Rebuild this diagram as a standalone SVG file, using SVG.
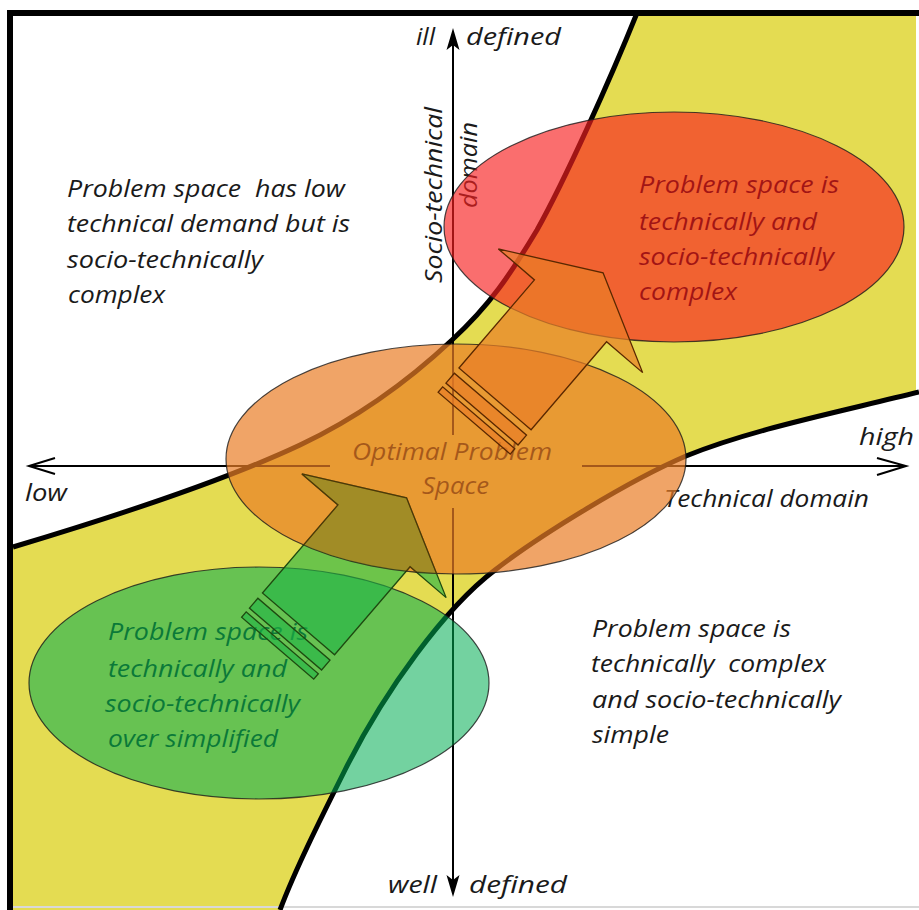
<svg xmlns="http://www.w3.org/2000/svg" width="919" height="910" viewBox="0 0 919 910">
<style>
text{font-family:"Open Sans","Liberation Sans",sans-serif;font-style:italic;font-size:24px;fill:#1a1a1a;white-space:pre}
.curve{fill:none;stroke:#000;stroke-width:5}
.axis{fill:none;stroke:#000;stroke-width:2}
.ell{stroke:#1a1a1a;stroke-width:1.2;stroke-opacity:0.8}
.arr{stroke-width:1.3}
</style>
<defs>
<g id="arrowShape">
<path d="M50,0 L0,95 L0,47.5 L-116,47.5 L-116,-47.5 L0,-47.5 L0,-95 Z"/>
<rect x="-136" y="-47.5" width="13" height="95"/>
<rect x="-148" y="-47.5" width="7" height="95"/>
</g>
<clipPath id="optimalClip">
<ellipse cx="456" cy="459" rx="230" ry="115"/>
</clipPath>
</defs>
<rect x="0" y="0" width="919" height="910" fill="#fff"/>
<g id="background">
<path d="M13,547 C120,515 230,478 300,445 C370,412 420,370 452,340 C490,305 510,275 537,230 C565,180 610,80 637,13 L916,13 L916,393 C830,414 750,430 686,456 C630,480 540,535 495,570 C445,608 385,690 345,770 C320,820 295,870 280,910 L13,910 Z" fill="#e4dc52"/>
<line x1="13" y1="907" x2="919" y2="907" stroke="#d8d8d8" stroke-width="2"/>
<line x1="7" y1="13" x2="919" y2="13" stroke="#000" stroke-width="6"/>
<line x1="10" y1="10" x2="10" y2="910" stroke="#000" stroke-width="6"/>
</g>
<g id="connectors">
<path class="curve" d="M13,547 C120,515 230,478 300,445 C370,412 420,370 452,340 C490,305 510,275 537,230 C565,180 610,80 637,13"/>
<path class="curve" d="M919,392 C830,414 750,430 686,456 C630,480 540,535 495,570 C445,608 385,690 345,770 C320,820 295,870 280,910"/>
<line class="axis" x1="453" y1="40" x2="453" y2="435"/>
<line class="axis" x1="453" y1="508" x2="453" y2="885"/>
<line class="axis" x1="30" y1="466" x2="330" y2="466"/>
<line class="axis" x1="582" y1="466" x2="905" y2="466"/>
<path d="M453,28 L446.5,50 L453,45 L459.5,50 Z" fill="#000"/>
<path d="M453,897 L446.5,875 L453,880 L459.5,875 Z" fill="#000"/>
<path class="axis" d="M55,458 L29,466 L55,474"/>
<path class="axis" d="M877,458 L906,466 L877,475"/>
</g>
<g id="labels">
<text x="416" y="45" textLength="19" lengthAdjust="spacingAndGlyphs">ill</text>
<text x="466" y="45" textLength="95" lengthAdjust="spacingAndGlyphs">defined</text>
<text x="388" y="893" textLength="49" lengthAdjust="spacingAndGlyphs">well</text>
<text x="469" y="893" textLength="98" lengthAdjust="spacingAndGlyphs">defined</text>
<text x="25" y="501" textLength="42" lengthAdjust="spacingAndGlyphs">low</text>
<text x="859" y="445" textLength="55" lengthAdjust="spacingAndGlyphs">high</text>
<text x="664" y="507" textLength="205" lengthAdjust="spacingAndGlyphs">Technical domain</text>
<text transform="translate(442,283) rotate(-90)" x="0" y="0" textLength="176" lengthAdjust="spacingAndGlyphs">Socio-technical</text>
<text transform="translate(477,208) rotate(-90)" x="0" y="0" textLength="86" lengthAdjust="spacingAndGlyphs">domain</text>
</g>
<g id="q-topleft">
<text x="67" y="197" textLength="278" lengthAdjust="spacingAndGlyphs">Problem space  has low</text>
<text x="67" y="232" textLength="283" lengthAdjust="spacingAndGlyphs">technical demand but is</text>
<text x="67" y="268" textLength="196" lengthAdjust="spacingAndGlyphs">socio-technically</text>
<text x="68" y="303" textLength="97" lengthAdjust="spacingAndGlyphs">complex</text>
</g>
<g id="q-bottomright">
<text x="592" y="637" textLength="199" lengthAdjust="spacingAndGlyphs">Problem space is</text>
<text x="591" y="672" textLength="235" lengthAdjust="spacingAndGlyphs">technically  complex</text>
<text x="592" y="708" textLength="249" lengthAdjust="spacingAndGlyphs">and socio-technically</text>
<text x="592" y="743" textLength="77" lengthAdjust="spacingAndGlyphs">simple</text>
</g>
<g id="text-under">
<text x="639" y="193" textLength="200" lengthAdjust="spacingAndGlyphs" style="fill:#000">Problem space is</text>
<text x="639" y="230" textLength="178" lengthAdjust="spacingAndGlyphs" style="fill:#000">technically and</text>
<text x="639" y="265" textLength="195" lengthAdjust="spacingAndGlyphs" style="fill:#000">socio-technically</text>
<text x="639" y="300" textLength="98" lengthAdjust="spacingAndGlyphs" style="fill:#000">complex</text>
<text x="108" y="640" textLength="200" lengthAdjust="spacingAndGlyphs" style="fill:#1a3a1a">Problem space is</text>
<text x="108" y="677" textLength="179" lengthAdjust="spacingAndGlyphs" style="fill:#1a3a1a">technically and</text>
<text x="105" y="712" textLength="195" lengthAdjust="spacingAndGlyphs" style="fill:#1a3a1a">socio-technically</text>
<text x="108" y="747" textLength="170" lengthAdjust="spacingAndGlyphs" style="fill:#1a3a1a">over simplified</text>
<text x="352" y="460" textLength="200" lengthAdjust="spacingAndGlyphs" style="fill:#000">Optimal Problem</text>
<text x="422" y="494" textLength="67" lengthAdjust="spacingAndGlyphs" style="fill:#000">Space</text>
</g>
<g id="node-simplified">
<ellipse class="ell" cx="259" cy="683" rx="230" ry="116" fill="#00ad52" fill-opacity="0.55"/>
</g>
<g id="arrow-lower">
<use href="#arrowShape" class="arr" transform="translate(374,535.8) rotate(-49.4)" fill="#1eb446" fill-opacity="0.6" stroke="#1e4a10"/>
</g>
<g id="node-optimal">
<ellipse class="ell" cx="456" cy="459" rx="230" ry="115" fill="#ea7d27" fill-opacity="0.7"/>
<g clip-path="url(#optimalClip)">
<use href="#arrowShape" transform="translate(374,535.8) rotate(-49.4)" fill="#648214" fill-opacity="0.36" stroke="#4a3a08" stroke-width="1.3"/>
</g>
</g>
<g id="node-complex">
<ellipse class="ell" cx="674" cy="227" rx="230" ry="115" fill="#f82020" fill-opacity="0.65"/>
</g>
<g id="arrow-upper">
<use href="#arrowShape" class="arr" transform="translate(570.5,310.8) rotate(-49.4)" fill="#ea7d27" fill-opacity="0.7" stroke="#5a2800"/>
</g>
</svg>
